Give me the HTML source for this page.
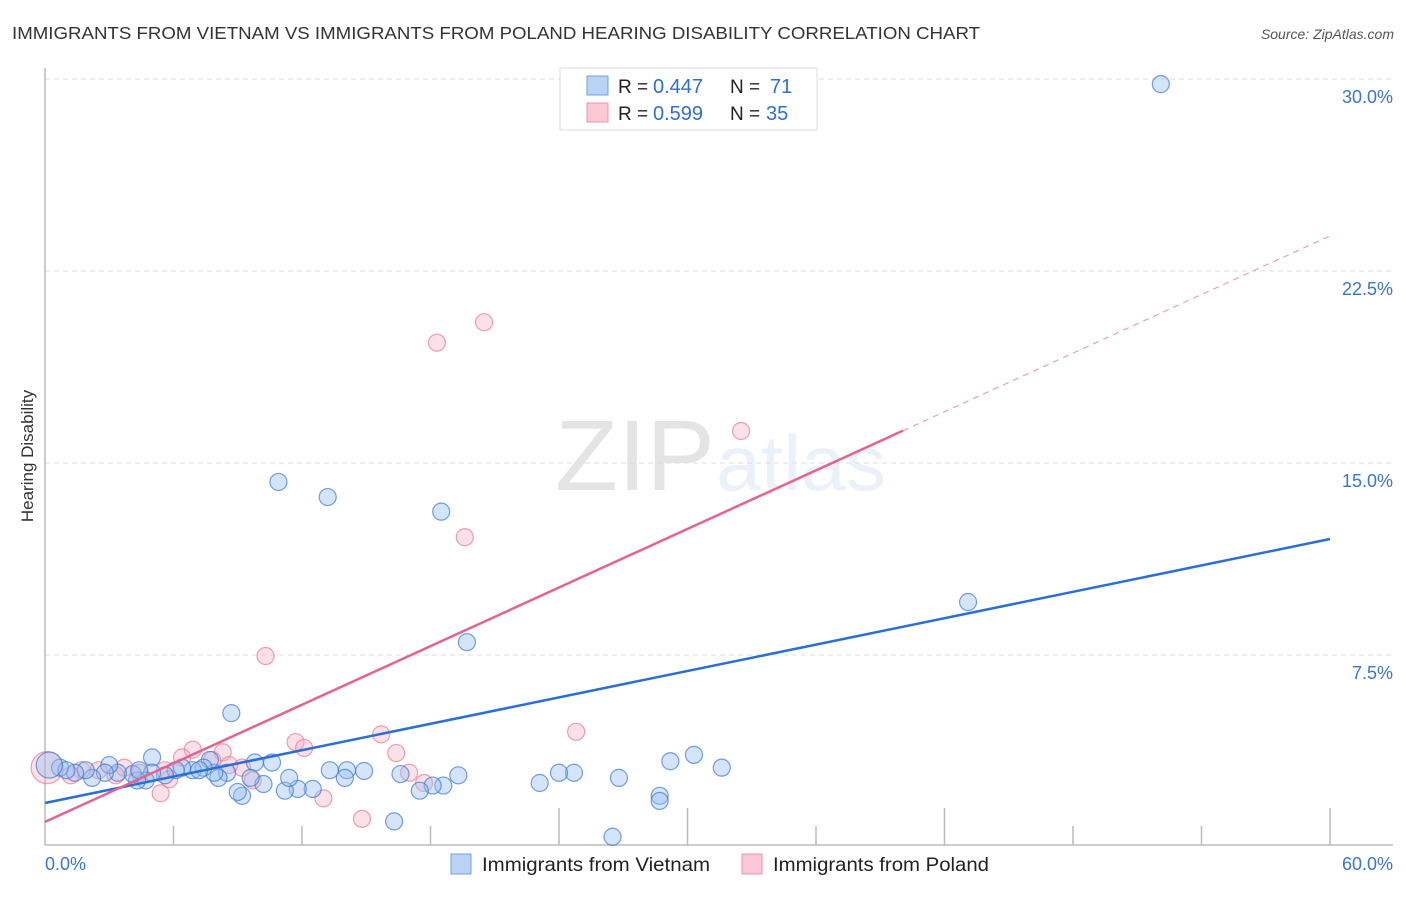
<!DOCTYPE html>
<html><head><meta charset="utf-8"><style>
body{margin:0;background:#fff;font-family:"Liberation Sans",sans-serif;}
svg text{font-family:"Liberation Sans",sans-serif;}
</style></head><body>
<svg id="chart" width="1406" height="892" xmlns="http://www.w3.org/2000/svg">
<text x="12" y="39" font-size="17.5" fill="#333" textLength="968" lengthAdjust="spacingAndGlyphs">IMMIGRANTS FROM VIETNAM VS IMMIGRANTS FROM POLAND HEARING DISABILITY CORRELATION CHART</text>
<text x="1394" y="39" font-size="14" fill="#555" text-anchor="end" font-style="italic">Source: ZipAtlas.com</text>
<text x="555" y="490" font-size="100" fill="#000" opacity="0.1" font-family="Liberation Serif" textLength="160" lengthAdjust="spacingAndGlyphs">ZIP</text>
<text x="716" y="490" font-size="78" fill="#3a7bd5" opacity="0.1" textLength="170" lengthAdjust="spacingAndGlyphs">atlas</text>
<text transform="translate(33,456) rotate(-90)" font-size="17" fill="#333" text-anchor="middle">Hearing Disability</text>
<g id="grid"></g><g id="axes"></g><g id="marks"></g><g id="lines"></g>
<g>
<rect x="560" y="68" width="257" height="62" fill="#fff" stroke="#ddd"/>
<rect x="587" y="76" width="21" height="19" fill="#b9d3f5" stroke="#6f9fe0"/>
<rect x="587" y="103" width="21" height="19" fill="#fcc8d6" stroke="#ee93ac"/>
<text x="618" y="93" font-size="19" fill="#222">R =</text>
<text x="653" y="93" font-size="20" fill="#2f6fd0">0.447</text>
<text x="730" y="93" font-size="19" fill="#222">N =</text>
<text x="770" y="93" font-size="20" fill="#2f6fd0">71</text>
<text x="618" y="120" font-size="19" fill="#222">R =</text>
<text x="653" y="120" font-size="20" fill="#2f6fd0">0.599</text>
<text x="730" y="120" font-size="19" fill="#222">N =</text>
<text x="766" y="120" font-size="20" fill="#2f6fd0">35</text>
</g>
<g>
<rect x="451" y="854" width="20" height="20" fill="#b9d3f5" stroke="#6f9fe0"/>
<text x="482" y="871" font-size="19.5" fill="#222" textLength="228" lengthAdjust="spacingAndGlyphs">Immigrants from Vietnam</text>
<rect x="742" y="854" width="20" height="20" fill="#fcc8d6" stroke="#ee93ac"/>
<text x="773" y="871" font-size="19.5" fill="#222" textLength="216" lengthAdjust="spacingAndGlyphs">Immigrants from Poland</text>
</g>
</svg>
<script>
const yTicks=[7.5,15,22.5,30];
const yTickLabels=["7.5%","15.0%","22.5%","30.0%"];
const xTickLabels=["0.0%","60.0%"];
const vietX=[52.1,10.9,13.2,18.5,43.1,19.7,8.7,5.0,30.3,29.2,31.6,26.8,24.7,24.0,23.1,28.7,28.7,26.5,16.3,19.3,18.6,18.1,17.5,16.6,14.9,14.1,14.0,13.3,12.5,11.8,11.2,11.4,10.6,10.2,9.8,9.6,9.2,9.0,8.5,8.1,7.9,7.7,7.4,6.9,6.4,6.1,5.6,5.0,4.7,4.3,4.1,3.4,3.0,2.8,2.2,1.9,1.4,0.7,1.0,7.2,4.4,0.2];
const vietY=[29.8,14.26,13.67,13.1,9.57,8.0,5.23,3.5,3.6,3.35,3.1,2.7,2.9,2.9,2.5,2.0,1.8,0.4,1.0,2.8,2.4,2.4,2.2,2.85,2.97,3.0,2.7,3.0,2.27,2.27,2.2,2.7,3.3,2.46,3.3,2.7,2.0,2.15,2.9,2.7,2.9,3.4,3.1,3.0,3.1,3.0,2.8,2.9,2.6,2.6,2.85,2.9,3.2,2.9,2.7,3.0,2.9,3.1,3.0,3.0,3.0,3.2];
const polX=[20.5,18.3,32.5,19.6,10.3,15.7,24.8,11.7,12.1,16.4,8.3,6.9,6.4,7.8,17.0,17.7,13.0,14.8,5.4,9.7,9.2,8.6,5.8,5.6,3.7,2.5,1.7,1.2,3.3,4.4,0.1];
const polY=[20.5,19.7,16.25,12.1,7.46,4.4,4.5,4.1,3.87,3.67,3.7,3.8,3.5,3.4,2.9,2.5,1.9,1.1,2.1,2.6,3.1,3.2,2.65,3.0,3.1,3.0,3.0,2.8,2.8,2.9,3.1];
const vietTrend=[1.72,12.03];
const polTrend=[0.98,23.87];
const polSolidEnd=40.06;
const NS="http://www.w3.org/2000/svg";
const X=v=>45+v*(1285/60);
const Y=v=>847-v*25.6;
function mk(t,a,p){const e=document.createElementNS(NS,t);for(const k in a)e.setAttribute(k,a[k]);p.appendChild(e);return e;}
const grid=document.getElementById('grid'),axes=document.getElementById('axes'),marks=document.getElementById('marks'),lines=document.getElementById('lines');
yTicks.forEach((t,i)=>{
 const l=mk('line',{x1:45,x2:1393,y1:Y(t),y2:Y(t),stroke:'#ddd','stroke-dasharray':'5,4'},grid);
 
 
 const tx=mk('text',{x:1393,y:Y(t)+24,'font-size':18,fill:'#3a75d0','text-anchor':'end'},axes);
 tx.textContent=yTickLabels[i];
 
 
});
let ax=mk('line',{x1:45,x2:1393,y1:845,y2:845,stroke:'#bbb','stroke-width':1.5},axes);


let ay=mk('line',{x1:45,x2:45,y1:68,y2:845,stroke:'#bbb','stroke-width':1.5},axes);


for(let i=1;i<=10;i++){
 const long=(i==4||i==5||i==7||i==10);
 const tk=mk('line',{x1:X(i*6),x2:X(i*6),y1:long?808:826,y2:845,stroke:'#bbb','stroke-width':1.5},axes);
 
 
}
[[0,'start',45],[60,'end',1393]].forEach((d,i)=>{
 const t=mk('text',{x:d[2],y:870,'font-size':18,fill:'#3a75d0','text-anchor':d[1]},axes);
 t.textContent=xTickLabels[i];
 
 
});
polX.forEach((x,i)=>{
 const c=mk('circle',{cx:X(x),cy:Y(polY[i]),r:(i==polX.length-1)?16:8.5,fill:'rgba(248,170,192,0.35)',stroke:'rgba(232,120,150,0.7)','stroke-width':1.2},marks);
 
 
});
vietX.forEach((x,i)=>{
 const c=mk('circle',{cx:X(x),cy:Y(vietY[i]),r:(i==vietX.length-1)?13:8.5,fill:'rgba(150,190,240,0.4)',stroke:'rgba(60,120,210,0.7)','stroke-width':1.2},marks);
 
 
});
const vt=mk('line',{x1:X(0),y1:Y(vietTrend[0]),x2:X(60),y2:Y(vietTrend[1]),stroke:'#2a6fd6','stroke-width':2.5},lines);


const ps=(polTrend[1]-polTrend[0])/60;
const pt=mk('line',{x1:X(0),y1:Y(polTrend[0]),x2:X(polSolidEnd),y2:Y(polTrend[0]+ps*polSolidEnd),stroke:'#e8628e','stroke-width':2.5},lines);


const pd=mk('line',{x1:X(polSolidEnd),y1:Y(polTrend[0]+ps*polSolidEnd),x2:X(60),y2:Y(polTrend[1]),stroke:'#eaa0b8','stroke-width':1.2,'stroke-dasharray':'6,5'},lines);


</script>
</body></html>
